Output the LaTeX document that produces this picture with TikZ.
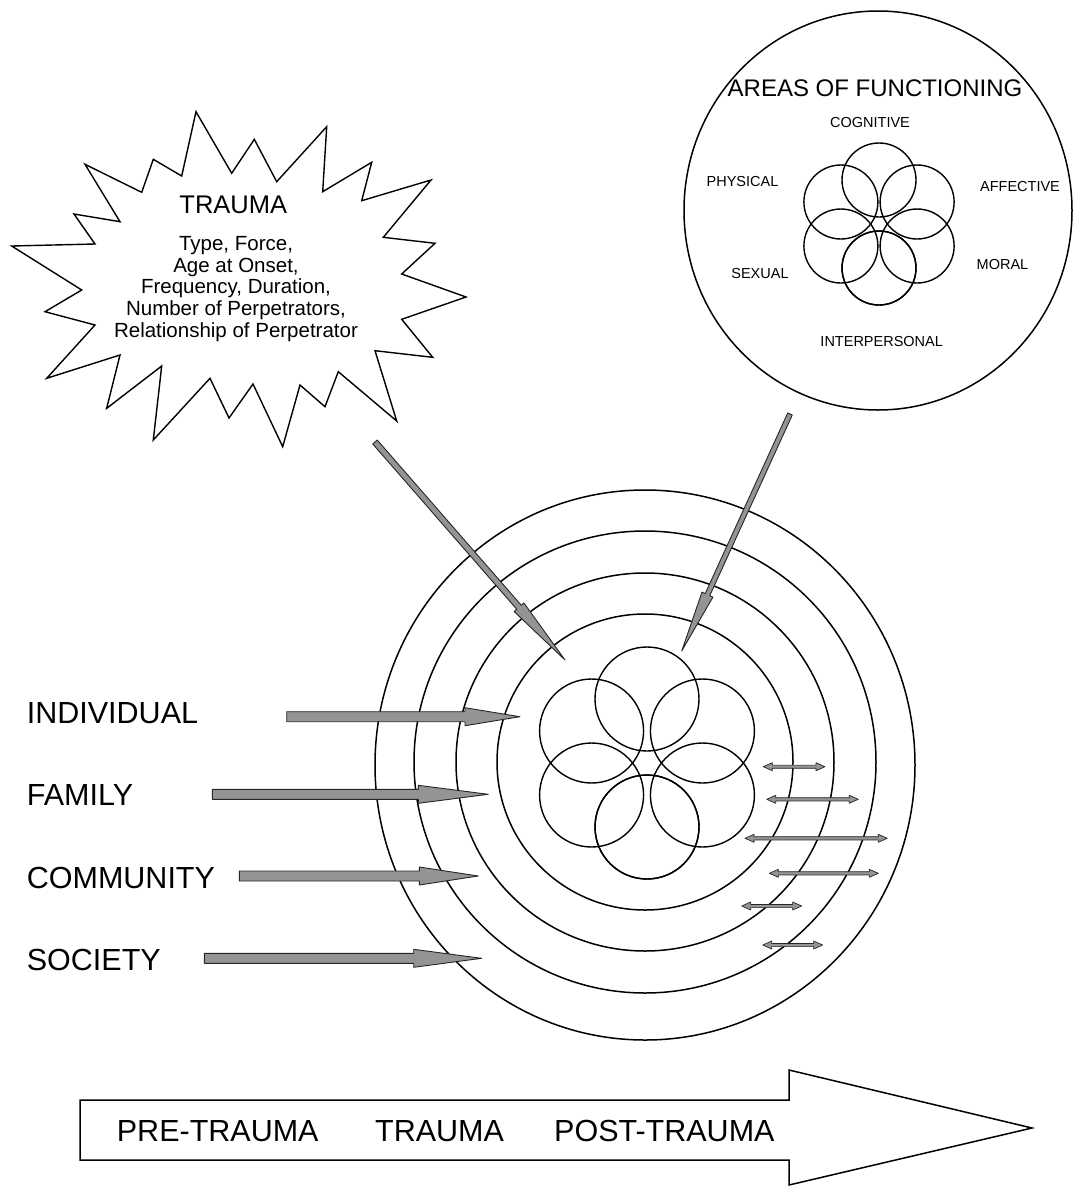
\documentclass[tikz,border=0pt]{standalone}
\usepackage{fontspec}
\setmainfont{Liberation Sans}
\usetikzlibrary{calc}
\tikzset{
  ring/.style={draw=black, line width=1.5pt},
  petal/.style={draw=black, line width=1.4pt},
  burst/.style={draw=black, line width=1.4pt, line join=miter},
  garrow/.style={draw=black!85, fill=black!42, line width=0.9pt, line join=round},
  bigtext/.style={font=\fontsize{30.5}{36}\selectfont, inner sep=0pt, anchor=base west},
  areatext/.style={font=\fontsize{14.5}{17}\selectfont, inner sep=0pt, anchor=base},
  bursttext/.style={font=\fontsize{20.5}{24}\selectfont, inner sep=0pt, anchor=base},
  bigarrow/.style={draw=black, line width=1.5pt, line join=miter},
}
\newcommand\blockarrow[5]{%
  \coordinate (hb) at ($(#2)!#5!(#1)$);
  \draw[garrow] ($(#1)!#3!90:(#2)$) -- ($(hb)!#3!90:(#2)$) -- ($(hb)!#4!90:(#2)$) -- (#2)
     -- ($(hb)!#4!-90:(#2)$) -- ($(hb)!#3!-90:(#2)$) -- ($(#1)!#3!-90:(#2)$) -- cycle;
}
\newcommand\dblarrow[2]{%
  \coordinate (ha) at ($(#1)!9pt!(#2)$);
  \coordinate (hbb) at ($(#2)!9pt!(#1)$);
  \draw[garrow, line width=0.7pt] (#1) -- ($(ha)!4pt!90:(#2)$) -- ($(ha)!1.6pt!90:(#2)$)
     -- ($(hbb)!1.6pt!-90:(#1)$) -- ($(hbb)!4pt!-90:(#1)$) -- (#2)
     -- ($(hbb)!4pt!90:(#1)$) -- ($(hbb)!1.6pt!90:(#1)$)
     -- ($(ha)!1.6pt!-90:(#2)$) -- ($(ha)!4pt!-90:(#2)$) -- cycle;
}
\begin{document}
\begin{tikzpicture}[x=1pt, y=-1pt]
\useasboundingbox (0,0) rectangle (1073,1187);

% ---------- starburst ----------
\draw[burst] (196,111.7) -- (231.7,173.3) -- (254.3,139.3) -- (276.7,181.7) -- (326.7,126.7)
  -- (322.7,191.7) -- (371.7,162.3) -- (361.7,200.7) -- (431,180) -- (383.3,237.3)
  -- (435,243.3) -- (401.7,274) -- (466,297) -- (401.7,319.3) -- (432.7,357.3)
  -- (375,350.7) -- (396.7,421) -- (338.3,371.7) -- (325,406.7) -- (300,385)
  -- (282.7,446.7) -- (253,384) -- (229,418) -- (210,378.3) -- (153.3,440)
  -- (161.7,366) -- (106.7,408.3) -- (120,355) -- (46.7,378.3) -- (95,325)
  -- (45,311.7) -- (81.7,290) -- (11.7,246) -- (95,244) -- (74,214)
  -- (120,221.7) -- (85,164.3) -- (141.7,192.3) -- (153.3,159.3) -- (181.7,176) -- cycle;
\node[font=\fontsize{25.5}{30}\selectfont, inner sep=0pt, anchor=base] (trauma) at (233.3,213.3) {TRAUMA};
\node[bursttext] (t1) at (236,250.7) {Type, Force,};
\node[bursttext] (t2) at (236,272.3) {Age at Onset,};
\node[bursttext] (t3) at (236,293.9) {Frequency, Duration,};
\node[bursttext] (t4) at (236,315.5) {Number of Perpetrators,};
\node[bursttext] (t5) at (236,337.1) {Relationship of Perpetrator};

% ---------- areas of functioning ----------
\coordinate (ac) at (878,210.5);
\draw[ring] (ac) ellipse[x radius=194, y radius=199.5];
\node[font=\fontsize{24}{28}\selectfont, inner sep=0pt, anchor=base] (areas) at (875,96.7) {AREAS OF FUNCTIONING};
\coordinate (ffc) at (879,224);
\foreach \a in {90,150,...,450} \draw[petal] ($(ffc)+(\a:44)$) circle[radius=37];
\node[areatext] (cog) at (870,127.7) {COGNITIVE};
\node[areatext] (phy) at (742.5,186) {PHYSICAL};
\node[areatext] (aff) at (1020,191.7) {AFFECTIVE};
\node[areatext] (sex) at (760,278.3) {SEXUAL};
\node[areatext] (mor) at (1002.5,269.3) {MORAL};
\node[areatext] (int) at (881.7,346) {INTERPERSONAL};

% ---------- rings and central flower ----------
\coordinate (rc) at (645,762);
\draw[ring] (rc) circle[radius=148];
\draw[ring] (rc) circle[radius=189];
\draw[ring] (rc) circle[radius=231];
\draw[ring] (645,765) ellipse[x radius=270, y radius=275];
\coordinate (fc) at (647,763);
\foreach \a in {90,150,...,450} \draw[petal] ($(fc)+(\a:64)$) circle[radius=52];

% ---------- diagonal arrows ----------
\coordinate (tdT) at (375,442);
\coordinate (tdH) at (565,660);
\blockarrow{tdT}{tdH}{3pt}{6.5pt}{70pt}
\coordinate (adT) at (790,414);
\coordinate (adH) at (681.7,651);
\blockarrow{adT}{adH}{2.5pt}{6pt}{62pt}

% ---------- level labels and arrows ----------
\node[bigtext] (ind) at (26.7,723.3) {INDIVIDUAL};
\node[bigtext] (fam) at (26.7,805) {FAMILY};
\node[bigtext] (com) at (26.7,888) {COMMUNITY};
\node[bigtext] (soc) at (26.7,970) {SOCIETY};
\coordinate (indT) at (286.7,716.7); \coordinate (indH) at (520,716.7);
\coordinate (famT) at (212.3,794.3); \coordinate (famH) at (488.3,794.3);
\coordinate (comT) at (239.3,876);   \coordinate (comH) at (478.3,876);
\coordinate (socT) at (204.3,958.3); \coordinate (socH) at (481.7,958.3);
\blockarrow{indT}{indH}{5pt}{9pt}{55pt}
\blockarrow{famT}{famH}{5pt}{9pt}{70pt}
\blockarrow{comT}{comH}{5pt}{9pt}{59pt}
\blockarrow{socT}{socH}{5pt}{9pt}{68pt}

% ---------- small double arrows ----------
\coordinate (d1a) at (763.3,766.7); \coordinate (d1b) at (825,766.7);
\coordinate (d2a) at (766.7,799.3); \coordinate (d2b) at (858.3,799.3);
\coordinate (d3a) at (745,838.3);   \coordinate (d3b) at (887.3,838.3);
\coordinate (d4a) at (769.3,873.3); \coordinate (d4b) at (878.3,873.3);
\coordinate (d5a) at (741.7,906);   \coordinate (d5b) at (801.7,906);
\coordinate (d6a) at (762.7,945);   \coordinate (d6b) at (822.7,945);
\dblarrow{d1a}{d1b}
\dblarrow{d2a}{d2b}
\dblarrow{d3a}{d3b}
\dblarrow{d4a}{d4b}
\dblarrow{d5a}{d5b}
\dblarrow{d6a}{d6b}

% ---------- time arrow ----------
\draw[bigarrow] (80,1100) -- (789,1100) -- (789,1070) -- (1032,1128) -- (789,1185)
  -- (789,1160) -- (80,1160) -- cycle;
\node[bigtext] (pre) at (116.7,1141.5) {PRE-TRAUMA};
\node[bigtext] (mid) at (375,1141.5) {TRAUMA};
\node[bigtext] (post) at (554,1141.5) {POST-TRAUMA};
\end{tikzpicture}
\end{document}
